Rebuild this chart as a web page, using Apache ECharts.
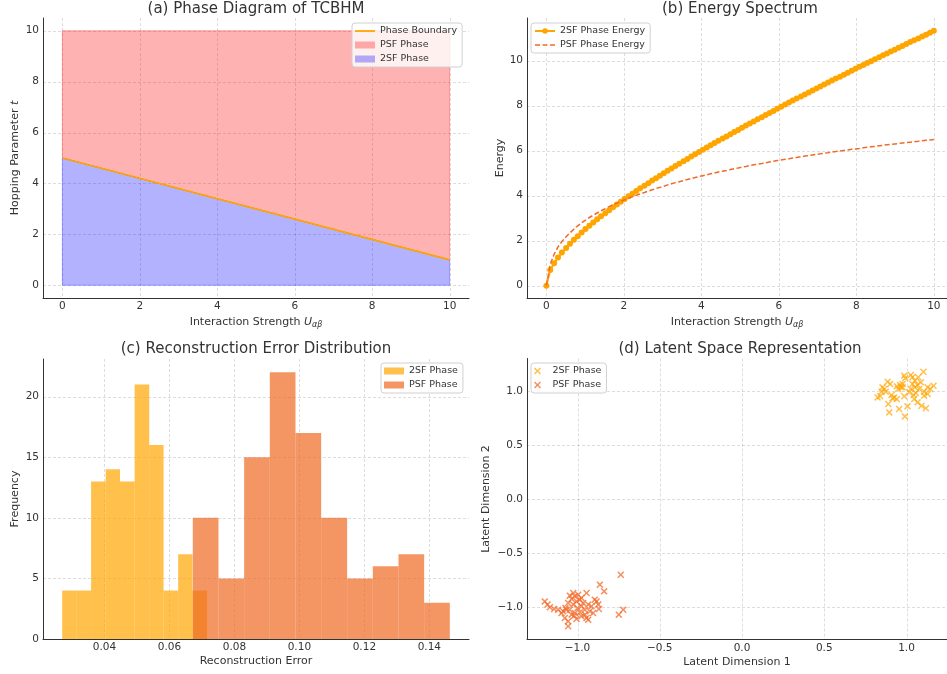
<!DOCTYPE html>
<html><head><meta charset="utf-8">
<script src="https://cdn.jsdelivr.net/npm/echarts@6/dist/echarts.min.js"></script>
<style>html,body{margin:0;padding:0;background:#fff}#c{width:947px;height:674px}</style>
</head><body><div id="c"></div>
<script>
// ---------- Panel (a): phase diagram ----------
const boundaryU = [0, 10];
const boundaryT = [5, 1];
const tMin = 0;
const tMax = 10;
const ticksA = [0, 2, 4, 6, 8, 10];

// ---------- Panel (b): energy spectrum ----------
const energyU = [0,0.10,0.20,0.30,0.40,0.51,0.61,0.71,0.81,0.91,
1.01,1.11,1.21,1.31,1.41,1.52,1.62,1.72,1.82,1.92,
2.02,2.12,2.22,2.32,2.42,2.53,2.63,2.73,2.83,2.93,
3.03,3.13,3.23,3.33,3.43,3.54,3.64,3.74,3.84,3.94,
4.04,4.14,4.24,4.34,4.44,4.55,4.65,4.75,4.85,4.95,
5.05,5.15,5.25,5.35,5.45,5.56,5.66,5.76,5.86,5.96,
6.06,6.16,6.26,6.36,6.46,6.57,6.67,6.77,6.87,6.97,
7.07,7.17,7.27,7.37,7.47,7.58,7.68,7.78,7.88,7.98,
8.08,8.18,8.28,8.38,8.48,8.59,8.69,8.79,8.89,8.99,
9.09,9.19,9.29,9.39,9.49,9.60,9.70,9.80,9.90,10];
const energy2SF = [0,0.69,1.00,1.25,1.47,1.67,1.86,2.04,2.20,2.36,
2.52,2.66,2.81,2.95,3.09,3.22,3.35,3.48,3.61,3.73,
3.85,3.97,4.09,4.21,4.33,4.44,4.55,4.67,4.78,4.89,
5.00,5.11,5.21,5.32,5.42,5.53,5.63,5.74,5.84,5.94,
6.04,6.14,6.24,6.34,6.44,6.54,6.63,6.73,6.83,6.92,
7.02,7.12,7.21,7.30,7.40,7.49,7.59,7.68,7.77,7.86,
7.95,8.05,8.14,8.23,8.32,8.41,8.50,8.59,8.68,8.77,
8.85,8.94,9.03,9.12,9.21,9.29,9.38,9.47,9.55,9.64,
9.73,9.81,9.90,9.98,10.07,10.15,10.24,10.32,10.41,10.49,
10.58,10.66,10.74,10.83,10.91,10.99,11.08,11.16,11.24,11.33];
const energyPSF = [0,0.95,1.40,1.72,1.96,2.17,2.35,2.51,2.66,2.79,
2.91,3.03,3.13,3.23,3.33,3.42,3.51,3.59,3.67,3.74,
3.82,3.89,3.95,4.02,4.08,4.14,4.20,4.26,4.32,4.37,
4.42,4.48,4.53,4.58,4.62,4.67,4.72,4.76,4.81,4.85,
4.89,4.93,4.97,5.01,5.05,5.09,5.12,5.16,5.20,5.23,
5.27,5.30,5.34,5.37,5.40,5.43,5.46,5.50,5.53,5.56,
5.59,5.62,5.64,5.67,5.70,5.73,5.76,5.78,5.81,5.84,
5.86,5.89,5.91,5.94,5.96,5.99,6.01,6.03,6.06,6.08,
6.10,6.13,6.15,6.17,6.19,6.22,6.24,6.26,6.28,6.30,
6.32,6.34,6.36,6.38,6.40,6.42,6.44,6.46,6.48,6.50];
const ticksB_y = [0, 2, 4, 6, 8, 10];

// ---------- Panel (c): reconstruction error histogram ----------
const hist2SFEdges = [0.0270,0.0315,0.0359,0.0404,0.0448,0.0493,0.0538,0.0582,0.0627,0.0671,0.0716];
const hist2SFCounts = [4,4,13,14,13,21,16,4,7,4];
const histPSFEdges = [0.0672,0.0751,0.0830,0.0909,0.0988,0.1067,0.1147,0.1226,0.1305,0.1384,0.1463];
const histPSFCounts = [10,5,15,22,17,10,5,6,7,3];
const ticksC_x = [0.04, 0.06, 0.08, 0.10, 0.12, 0.14];
const ticksC_y = [0, 5, 10, 15, 20];

// ---------- Panel (d): latent space ----------
const latent2SF_x = [1.103,0.986,1.036,1.051,1.071,0.885,0.901,0.961,0.976,0.949,
0.864,0.848,0.824,0.840,0.925,0.941,0.986,1.026,1.051,1.077,
1.067,1.128,1.164,1.144,1.043,1.107,1.047,1.006,0.955,0.990,
0.895,0.889,1.091,1.118,0.874,0.915,1.016,0.966,1.057,1.087,
0.941,0.992,1.026,1.107,0.854,1.067,1.128,0.976,0.909,1.036];
const latent2SF_y = [1.179,1.142,1.127,1.096,1.127,1.086,1.065,1.056,1.034,1.019,
1.019,0.994,0.941,0.951,0.941,0.926,0.951,1.019,1.034,1.019,
1.056,1.034,1.049,1.019,0.963,0.957,0.926,0.858,0.833,0.765,
0.802,0.880,0.864,0.840,0.994,0.932,0.988,1.034,0.981,1.080,
1.043,1.117,1.148,0.994,1.034,0.895,0.972,1.065,0.963,1.065];
const latentPSF_x = [-0.737,-0.864,-0.838,-0.722,-0.749,-1.199,-1.168,-1.182,-1.118,-1.087,
-1.026,-1.016,-1.036,-0.996,-0.945,-0.976,-1.057,-1.073,-1.047,-1.016,
-0.986,-0.955,-0.935,-0.915,-0.884,-0.874,-0.870,-0.905,-0.945,-0.976,
-1.006,-1.057,-1.057,-1.077,-1.097,-1.036,-1.000,-1.026,-0.966,-0.925,
-0.895,-1.047,-1.006,-0.976,-0.955,-1.142,-1.020,-0.986,-1.067,-0.935];
const latentPSF_y = [-0.701,-0.793,-0.855,-1.025,-1.071,-0.948,-1.003,-0.978,-1.025,-1.040,
-0.870,-0.901,-0.926,-0.886,-0.870,-0.917,-0.963,-1.009,-1.025,-1.056,
-1.049,-1.025,-0.978,-0.994,-0.948,-0.978,-1.019,-1.056,-1.102,-1.086,
-1.111,-1.133,-1.179,-1.102,-1.056,-1.071,-1.009,-0.978,-0.963,-1.040,
-0.932,-0.895,-0.948,-0.994,-1.071,-1.019,-1.080,-0.932,-1.025,-1.117];
const ticksD = [-1, -0.5, 0, 0.5, 1];

// ---------- styling ----------
const FONT = 'DejaVu Sans';
const TXT = '#333';
const C_ORANGE = '#FFA500';
const C_RED = '#F26A2A';
const ZW = '\u200b';
const clean = n => n.replace(/\u200b/g, '');

const intFmt = v => String(v);
const fix2 = v => v.toFixed(2);
const fix1m = v => (v < 0 ? '\u2212' : '') + Math.abs(v).toFixed(1);

const uRich = {
  u: {fontFamily: FONT, fontSize: 11, fontStyle: 'italic', color: TXT},
  s: {fontFamily: FONT, fontSize: 8, fontStyle: 'italic', color: TXT, verticalAlign: 'bottom', padding: [5, 0, 0, 0]},
  t: {fontFamily: FONT, fontSize: 11, fontStyle: 'italic', color: TXT}
};

function axis(kind, gi, min, max, ticks, fmt, name, gap) {
  return {
    type: 'value', gridIndex: gi, min: min, max: max,
    name: name, nameLocation: 'middle', nameGap: gap,
    nameRotate: kind === 'y' ? 90 : 0,
    nameTextStyle: {fontFamily: FONT, fontSize: 11, color: TXT, rich: uRich},
    axisLine: {show: true, onZero: false, lineStyle: {color: '#333', width: 1}},
    axisTick: {show: false, customValues: ticks},
    axisLabel: {customValues: ticks, formatter: fmt, fontFamily: FONT, fontSize: 10.5, color: TXT, margin: kind === 'y' ? 4 : 3},
    splitLine: {show: false}
  };
}

// dashed grid lines drawn at the tick values through the axes' scales
function gridLines(gi, xt, yt) {
  const nx = xt.length;
  const data = xt.map(v => [v, 0]).concat(yt.map(v => [0, v]));
  return {
    type: 'custom', xAxisIndex: gi, yAxisIndex: gi, z: 0, silent: true,
    data: data,
    renderItem: function (params, api) {
      const cs = params.coordSys;
      const p = api.coord([api.value(0), api.value(1)]);
      const st = {stroke: 'rgba(0,0,0,0.17)', lineWidth: 0.8, lineDash: [3, 2]};
      if (params.dataIndex < nx) {
        const x = Math.round(p[0]) + 0.5;
        return {type: 'line', shape: {x1: x, y1: cs.y, x2: x, y2: cs.y + cs.height}, style: st};
      }
      const y = Math.round(p[1]) + 0.5;
      return {type: 'line', shape: {x1: cs.x, y1: y, x2: cs.x + cs.width, y2: y}, style: st};
    }
  };
}

function polySeries(name, gi, pts, color) {
  return {
    type: 'custom', name: name, xAxisIndex: gi, yAxisIndex: gi,
    data: [pts[0]], clip: true,
    itemStyle: {color: color},
    renderItem: function (params, api) {
      return {type: 'polygon', shape: {points: pts.map(p => api.coord(p))},
        style: {fill: color, stroke: color, lineWidth: 1}};
    }
  };
}

function histSeries(name, gi, edges, counts, color) {
  return {
    type: 'custom', name: name, xAxisIndex: gi, yAxisIndex: gi, clip: true,
    data: counts.map((c, i) => [edges[i], edges[i + 1], c]),
    encode: {x: [0, 1], y: 2},
    itemStyle: {color: color},
    renderItem: function (params, api) {
      const p0 = api.coord([api.value(0), api.value(2)]);
      const p1 = api.coord([api.value(1), 0]);
      return {type: 'rect', shape: {x: p0[0], y: p0[1], width: p1[0] - p0[0], height: p1[1] - p0[1]},
        style: {fill: color}};
    }
  };
}

function legend(left, top, names, extra) {
  return Object.assign({
    left: left, top: top, orient: 'vertical',
    data: names,
    formatter: clean,
    itemWidth: 20, itemHeight: 7, itemGap: 4, itemTextGap: 7,
    padding: [3, 5, 3, 3],
    symbolKeepAspect: true,
    backgroundColor: 'rgba(255,255,255,0.8)',
    borderColor: '#d0d0d0', borderWidth: 1, borderRadius: 3,
    textStyle: {fontFamily: FONT, fontSize: 9.5, color: TXT},
    selectedMode: false
  }, extra || {});
}

const X_PATH = 'path://M0,1.5L1.5,0L5,3.5L8.5,0L10,1.5L6.5,5L10,8.5L8.5,10L5,6.5L1.5,10L0,8.5L3.5,5Z';
const LINE_ICON = 'path://M0,0H20V1.8H0Z';
const DASH_ICON = 'path://M0,0H5V1.6H0ZM7.5,0H12.5V1.6H7.5ZM15,0H20V1.6H15Z';

// polygons for panel (a)
const psfPoly = [[boundaryU[0], boundaryT[0]], [boundaryU[1], boundaryT[1]], [boundaryU[1], tMax], [boundaryU[0], tMax]];
const sfPoly = [[boundaryU[0], tMin], [boundaryU[1], tMin], [boundaryU[1], boundaryT[1]], [boundaryU[0], boundaryT[0]]];

const titleStyle = {fontFamily: FONT, fontSize: 15, fontWeight: 'normal', color: TXT};

const option = {
  animation: false,
  textStyle: {fontFamily: FONT},
  title: [
    {text: '(a) Phase Diagram of TCBHM', left: 256, top: 1.5, textAlign: 'center', padding: 0, textStyle: titleStyle},
    {text: '(b) Energy Spectrum', left: 740, top: 1.5, textAlign: 'center', padding: 0, textStyle: titleStyle},
    {text: '(c) Reconstruction Error Distribution', left: 256, top: 341.5, textAlign: 'center', padding: 0, textStyle: titleStyle},
    {text: '(d) Latent Space Representation', left: 740, top: 341.5, textAlign: 'center', padding: 0, textStyle: titleStyle}
  ],
  grid: [
    {left: 43, top: 18, width: 426, height: 280},
    {left: 527, top: 18, width: 420, height: 280},
    {left: 43, top: 359, width: 426, height: 280},
    {left: 527, top: 358.5, width: 420, height: 281}
  ],
  xAxis: [
    axis('x', 0, -0.5, 10.5, ticksA, intFmt, 'Interaction Strength {u|U}{s|αβ}', 18),
    axis('x', 1, -0.5, 10.34, ticksA, intFmt, 'Interaction Strength {u|U}{s|αβ}', 18),
    axis('x', 2, 0.0211, 0.1522, ticksC_x, fix2, 'Reconstruction Error', 17),
    axis('x', 3, -1.307, 1.246, ticksD, fix1m, 'Latent Dimension 1', 17)
  ],
  yAxis: [
    axis('y', 0, -0.5, 10.5, ticksA, intFmt, 'Hopping Parameter {t|t}', 22),
    axis('y', 1, -0.55, 11.9, ticksB_y, intFmt, 'Energy', 21),
    axis('y', 2, 0, 23.1, ticksC_y, intFmt, 'Frequency', 22),
    axis('y', 3, -1.301, 1.301, ticksD, fix1m, 'Latent Dimension 2', 35)
  ],
  legend: [
    legend(352, 23, [{name: 'Phase Boundary', icon: LINE_ICON}, {name: 'PSF Phase', icon: 'rect'}, {name: '2SF Phase', icon: 'rect'}]),
    legend(531, 23, ['2SF Phase Energy', {name: 'PSF Phase Energy', icon: DASH_ICON}]),
    legend(381, 363, [{name: '2SF Phase' + ZW, icon: 'rect'}, {name: 'PSF Phase' + ZW, icon: 'rect'}]),
    legend(531, 363, ['2SF Phase' + ZW + ZW, 'PSF Phase' + ZW + ZW])
  ],
  series: [
    gridLines(0, ticksA, ticksA),
    gridLines(1, ticksA, ticksB_y),
    gridLines(2, ticksC_x, ticksC_y),
    gridLines(3, ticksD, ticksD),

    polySeries('PSF Phase', 0, psfPoly, 'rgba(255,0,0,0.3)'),
    polySeries('2SF Phase', 0, sfPoly, 'rgba(0,0,255,0.3)'),
    {type: 'line', name: 'Phase Boundary', xAxisIndex: 0, yAxisIndex: 0, z: 5,
      data: boundaryU.map((u, i) => [u, boundaryT[i]]), symbol: 'none',
      itemStyle: {color: C_ORANGE}, lineStyle: {color: C_ORANGE, width: 1.8}},

    {type: 'line', name: '2SF Phase Energy', xAxisIndex: 1, yAxisIndex: 1, z: 4,
      data: energyU.map((u, i) => [u, energy2SF[i]]),
      symbol: 'circle', symbolSize: 6, showAllSymbol: true,
      itemStyle: {color: C_ORANGE}, lineStyle: {color: C_ORANGE, width: 2}},
    {type: 'line', name: 'PSF Phase Energy', xAxisIndex: 1, yAxisIndex: 1, z: 5,
      data: energyU.map((u, i) => [u, energyPSF[i]]), symbol: 'none',
      itemStyle: {color: C_RED}, lineStyle: {color: C_RED, width: 1.5, type: [5, 2.5]}},

    histSeries('2SF Phase' + ZW, 2, hist2SFEdges, hist2SFCounts, 'rgba(255,165,0,0.7)'),
    histSeries('PSF Phase' + ZW, 2, histPSFEdges, histPSFCounts, 'rgba(240,106,34,0.7)'),

    {type: 'scatter', name: '2SF Phase' + ZW + ZW, xAxisIndex: 3, yAxisIndex: 3,
      data: latent2SF_x.map((x, i) => [x, latent2SF_y[i]]),
      symbol: X_PATH, symbolSize: 7, symbolKeepAspect: true,
      itemStyle: {color: C_ORANGE, opacity: 0.7}},
    {type: 'scatter', name: 'PSF Phase' + ZW + ZW, xAxisIndex: 3, yAxisIndex: 3,
      data: latentPSF_x.map((x, i) => [x, latentPSF_y[i]]),
      symbol: X_PATH, symbolSize: 7, symbolKeepAspect: true,
      itemStyle: {color: C_RED, opacity: 0.75}}
  ]
};

const chart = echarts.init(document.getElementById('c'), null, {renderer: 'canvas'});
chart.setOption(option);
</script>
</body></html>
